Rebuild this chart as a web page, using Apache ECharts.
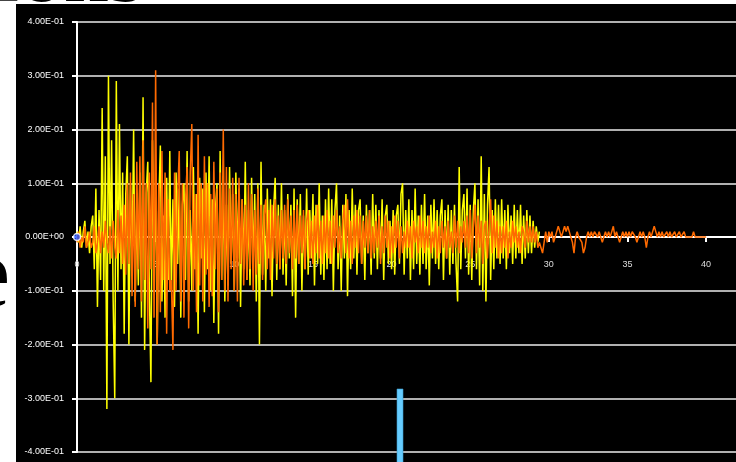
<!DOCTYPE html>
<html>
<head>
<meta charset="utf-8">
<script src="https://cdn.jsdelivr.net/npm/echarts@6/dist/echarts.min.js"></script>
<style>
  html, body { margin: 0; padding: 0; background: #ffffff; }
  #chart { width: 736px; height: 462px; }
</style>
</head>
<body>
<div id="chart"></div>
<script>
// Sample spacing of both traces, seconds
const dt = 0.1;

// Trace 1 (yellow), ground motion, one row per second starting at t = 0
const yellowTrace = [
  .01,-.01,.02,-.02,.01,.03,-.02,.01,-.03,.02,
  .04,-.06,.09,-.13,.05,-.08,.24,-.10,.15,-.32,
  .30,-.05,.18,-.12,-.30,.29,-.10,.21,-.06,.12,
  -.18,.08,.15,-.20,.10,-.05,.20,-.12,.06,-.09,
  .12,-.15,.26,-.21,.08,.14,-.10,-.27,.18,-.05,
  .10,-.20,.06,.17,-.12,.04,-.15,.11,-.08,.16,
  -.10,.07,-.13,.12,-.05,.09,-.15,.06,.10,-.08,
  .16,-.12,.05,-.10,.13,-.06,.08,-.18,.11,-.04,
  .09,-.14,.12,-.06,.15,-.10,.07,-.16,.05,.10,
  -.18,.16,-.08,.10,-.12,.06,-.09,.13,-.05,.08,
  -.10,.12,-.04,.09,-.13,.07,-.06,.14,-.08,.05,
  -.09,.11,-.05,.08,-.12,.10,-.20,.14,-.07,.06,
  -.10,.09,-.04,.07,-.11,.05,.11,-.08,.06,-.06,
  .10,-.07,.05,-.09,.08,-.04,.06,-.11,.09,-.15,
  .07,-.05,.08,-.10,.04,-.06,.09,-.07,.05,-.04,
  .08,-.09,.06,-.05,.10,-.07,.04,-.08,.07,-.06,
  .09,-.05,.07,-.10,.05,.10,-.06,.04,-.10,.06,
  -.04,.08,-.11,.05,-.06,.09,-.04,.06,-.07,.05,
  .07,-.05,.04,-.08,.06,-.03,.05,-.07,.08,-.04,
  .06,-.06,.05,-.04,.07,-.08,.04,.06,-.05,.03,
  -.06,.05,-.07,.04,.06,-.05,.08,.10,-.07,.05,
  -.04,.07,-.08,.05,-.06,.09,-.05,.04,-.07,.06,
  -.05,.08,-.06,.04,-.09,.06,-.04,.07,-.05,.05,
  -.06,.04,.07,-.08,.05,-.04,.06,-.07,.05,-.05,
  .06,-.05,-.12,.13,-.06,.05,.08,-.04,.09,-.07,
  .06,-.08,.05,.10,-.06,.07,-.09,.15,-.10,.08,
  -.12,.06,.13,-.08,.05,-.06,.07,-.04,.06,-.05,
  .07,-.04,.05,-.06,.06,-.03,.04,-.05,.06,-.04,
  .05,-.03,.06,-.05,.04,-.04,.05,-.03,.04,-.03,
  .03,-.02,.02,-.01,.01
];

// Trace 2 (orange), one row per second starting at t = 0
const orangeTrace = [
  -.01,.01,-.02,.00,-.01,.02,-.02,-.01,.01,-.02,
  -.01,.02,-.03,-.01,.02,-.03,.01,-.02,.03,-.01,
  -.03,.02,-.04,.03,-.02,-.04,.05,-.03,.04,-.05,
  .06,-.07,.10,-.05,.12,-.11,.08,-.13,.14,-.06,
  .15,-.12,.18,-.08,.10,-.17,.12,-.06,.25,-.15,
  .31,-.20,.10,-.14,.16,-.08,.12,-.18,.07,-.10,
  -.08,-.21,.12,-.10,.08,.16,-.12,.10,-.15,.07,
  .13,-.17,.12,.21,-.10,.08,-.14,.19,-.09,.10,
  -.12,.15,-.07,.10,-.13,.08,-.11,.14,-.06,.09,
  -.14,.12,-.08,.20,-.10,.13,-.12,.09,-.06,.11,
  -.10,.08,-.12,.11,-.05,.07,-.09,.06,-.08,.10,
  -.06,.08,-.10,.05,-.07,.09,-.05,.06,-.08,.04,
  .07,-.06,.05,-.08,.06,-.04,.07,-.05,.04,-.06,
  .05,-.04,.06,-.05,.07,-.03,.04,-.06,.05,-.04,
  .06,-.05,.04,-.03,.05,-.06,.03,.05,-.04,.03,
  -.05,.04,-.03,.06,-.04,.03,-.05,.04,-.03,.05,
  -.04,.03,-.05,.04,-.02,.05,-.03,.02,-.04,.03,
  .06,-.03,.07,-.04,.03,-.05,.04,-.02,.05,-.03,
  .04,-.05,.03,-.02,.04,-.03,.05,-.04,.02,-.03,
  .03,-.02,.04,-.05,.02,-.03,.04,-.02,.03,-.04,
  .02,-.03,.04,-.02,.03,-.04,.02,-.03,.01,-.02,
  .03,-.02,.02,-.04,.03,-.01,.02,-.03,.04,-.02,
  .03,-.03,.02,-.02,.04,-.03,.01,-.02,.03,-.04,
  .02,-.03,.03,-.02,.02,-.04,.03,-.02,.01,-.03,
  .04,-.02,.03,-.03,.02,-.01,.03,-.02,.04,-.03,
  .05,-.04,.02,.06,-.03,.04,-.02,.03,-.05,.02,
  .03,-.04,.02,.07,-.03,.04,-.02,.03,-.04,.02,
  -.03,.02,-.02,.03,-.04,.01,-.02,.03,-.01,.02,
  -.02,.01,-.03,.02,.01,-.02,.03,-.01,.02,-.01,
  .02,-.01,.01,-.02,-.01,-.02,-.03,-.01,.01,-.01,
  .01,.00,.01,-.01,.00,.01,.02,.01,.00,.01,
  .02,.01,.02,.01,.00,-.01,-.03,.00,.01,.00,
  .00,-.01,-.03,-.02,.00,.01,.00,.01,.00,.01,
  .01,.00,.01,.00,-.01,.00,.01,.00,.01,.00,
  .01,.02,.00,.01,.00,-.01,.00,.01,.00,.01,
  .00,.01,.00,.01,.01,.00,-.01,.00,.01,.00,
  .01,.00,-.02,.00,.01,.00,.01,.02,.01,.00,
  .01,.00,.01,.00,.00,.01,.00,.01,.00,.00,
  .01,.00,.00,.01,.00,.00,.01,.00,.00,.00,
  .00,.00,.01,.00,.00,.00,.00,.00,.00,.00,
  .00
];

// Axis settings
const timeTicks = { min: 0, max: 41.9, interval: 5 };
const ampTicks = { min: -0.4, max: 0.4, interval: 0.1 };

// Plot box (px); the time axis is drawn through amplitude 0, half way down
const plotTop = 22, plotBottom = 10, plotHeight = 462 - plotTop - plotBottom;

function toPairs(values) {
  return values.map((v, i) => [+(i * dt).toFixed(2), v]);
}

// Scientific label such as 3.00E-01 / 0.00E+00
function sciLabel(v) {
  const s = Number(v.toFixed(6)).toExponential(2);
  const parts = s.split('e');
  const sign = parts[1][0] === '-' ? '-' : '+';
  const digits = parts[1].replace(/[+-]/, '').padStart(2, '0');
  return parts[0].toUpperCase() + 'E' + sign + digits;
}

const chart = echarts.init(document.getElementById('chart'), null, { renderer: 'canvas' });

chart.setOption({
  animation: false,
  backgroundColor: '#ffffff',
  grid: { left: 77, right: 0, top: plotTop, bottom: plotBottom, containLabel: false, outerBoundsMode: 'none' },
  graphic: [
    {
      type: 'text', z: -30,
      style: { x: -6, y: 22, text: 'ions', fill: '#000', font: '90px "Liberation Serif", serif', verticalAlign: 'bottom' }
    },
    {
      type: 'text', z: -30,
      style: { x: -34, y: 280, text: 'e', fill: '#000', font: '100px "Liberation Serif", serif', verticalAlign: 'middle' }
    },
    {
      type: 'rect', z: -20,
      shape: { x: 16, y: 4, width: 720, height: 458 },
      style: { fill: '#000000' }
    },
    {
      type: 'rect', z: 50,
      shape: { x: 397, y: 389, width: 6, height: 80 },
      style: { fill: '#66ccff', stroke: '#3a9ccc', lineWidth: 0.6 }
    }
  ],
  xAxis: {
    type: 'value',
    position: 'bottom',
    offset: -plotHeight * (0 - ampTicks.min) / (ampTicks.max - ampTicks.min),
    min: timeTicks.min, max: timeTicks.max, interval: timeTicks.interval,
    axisLine: { onZero: false, lineStyle: { color: '#ffffff', width: 2 } },
    axisTick: { show: true, inside: false, length: 5, lineStyle: { color: '#ffffff', width: 2 } },
    axisLabel: { color: '#dddddd', fontSize: 9, margin: 23, showMaxLabel: false, fontFamily: 'Liberation Sans, Arial, sans-serif' },
    splitLine: { show: false }
  },
  yAxis: {
    type: 'value',
    min: ampTicks.min, max: ampTicks.max, interval: ampTicks.interval,
    axisLine: { show: true, onZero: false, lineStyle: { color: '#ffffff', width: 2 } },
    axisTick: { show: true, length: 5, lineStyle: { color: '#ffffff', width: 2 } },
    axisLabel: { color: '#ffffff', fontSize: 9, margin: 13, formatter: sciLabel, fontFamily: 'Liberation Sans, Arial, sans-serif' },
    splitLine: { show: true, lineStyle: { color: '#b0b0b0', width: 2 } }
  },
  series: [
    {
      name: 'trace 1',
      type: 'line',
      data: toPairs(yellowTrace),
      showSymbol: false,
      sampling: null,
      lineStyle: { color: '#ffff00', width: 1.5 },
      z: 3
    },
    {
      name: 'trace 2',
      type: 'line',
      data: toPairs(orangeTrace),
      showSymbol: false,
      lineStyle: { color: '#ff6a00', width: 1.5 },
      z: 4
    },
    {
      name: 'origin',
      type: 'scatter',
      data: [[0, 0]],
      symbol: 'circle',
      symbolSize: 7,
      itemStyle: { color: '#1f4fff', borderColor: '#ffffff', borderWidth: 1.5 },
      z: 5
    }
  ]
});
</script>
</body>
</html>
